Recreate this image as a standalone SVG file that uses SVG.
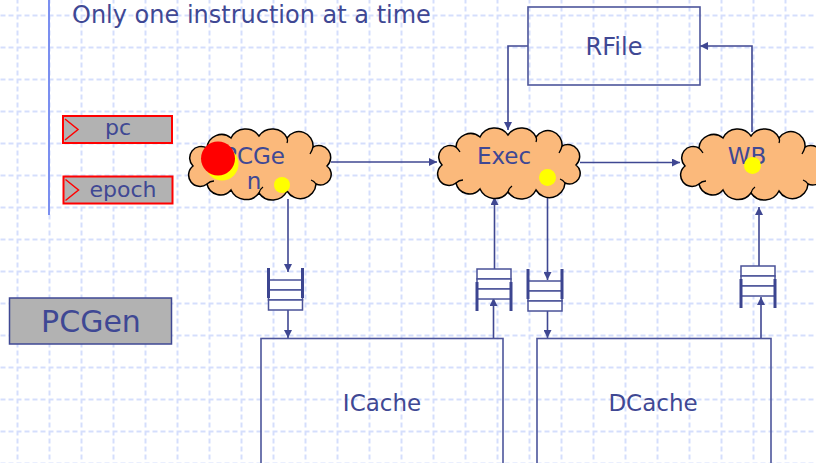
<svg xmlns="http://www.w3.org/2000/svg" width="816" height="463" viewBox="0 0 816 463">
  <style>
    .lbl { font-family: "DejaVu Sans", Verdana, sans-serif; fill: #3f4894; }
    .wire { fill: none; stroke: #3f4792; stroke-width: 1.6; }
    .box { fill: none; stroke: #4d559b; stroke-width: 1.6; }
    .reg { fill: #b2b2b2; stroke: #ff0000; stroke-width: 2; }
    .chev { fill: none; stroke: #ff0000; stroke-width: 1.5; }
    .cloud { fill: #fbb97b; stroke: #000; stroke-width: 1.5; }
    .cloudin { fill: none; stroke: #000; stroke-width: 1.3; }
    .cell { fill: #fff; stroke: #4a5298; stroke-width: 1.5; }
    .bar { stroke: #3c4590; stroke-width: 3; }
  </style>
  <defs>
    <pattern id="grid" patternUnits="userSpaceOnUse" x="16.5" y="14.5" width="32" height="32">
      <path d="M0,1 H32 M1,0 V32" stroke="#d5defc" stroke-width="2" stroke-dasharray="5 3" fill="none"/>
    </pattern>
    <marker id="ah" viewBox="0 0 10 10" refX="10" refY="5" markerWidth="8" markerHeight="8" markerUnits="userSpaceOnUse" orient="auto">
      <path d="M0,0 L10,5 L0,10 z" fill="#3f4792"/>
    </marker>
    <!-- cloud outline, about 140 x 72 -->
    <g id="cloudShape">
      <path class="cloud" d="M4,38 A11.5,11.5 0 0 1 18,20 A14.6,14.6 0 0 1 42,10 A16.3,16.3 0 0 1 70,8 A16.3,16.3 0 0 1 98,10 A14.2,14.2 0 0 1 124,19 A11.9,11.9 0 0 1 138,38 A10.6,10.6 0 0 1 127,56 A15.6,15.6 0 0 1 98,63 A16.3,16.3 0 0 1 70,65 A16.4,16.4 0 0 1 42,62 A13.8,13.8 0 0 1 18,56 A10,10 0 0 1 4,38 Z"/>
      <path class="cloudin" d="M18,56 q3,-3 7,-3 M124,19 q-1,4 -3,7 M127,56 q-2,-3 -5,-4 M70,65 q1,-4 4,-6 M18,20 q2,2 4,5 M98,10 q1,2 0,5"/>
    </g>
    <!-- FIFO with guard bars at the top -->
    <g id="fifoTop">
      <rect class="cell" x="0" y="12" width="34" height="10"/>
      <rect class="cell" x="0" y="22" width="34" height="10"/>
      <rect class="cell" x="0" y="32" width="34" height="10"/>
      <line class="bar" x1="0" y1="0" x2="0" y2="30"/>
      <line class="bar" x1="34" y1="0" x2="34" y2="30"/>
    </g>
    <!-- FIFO with guard bars at the bottom -->
    <g id="fifoBottom">
      <rect class="cell" x="0" y="0" width="34" height="10"/>
      <rect class="cell" x="0" y="10" width="34" height="10"/>
      <rect class="cell" x="0" y="20" width="34" height="10"/>
      <line class="bar" x1="0" y1="13" x2="0" y2="42"/>
      <line class="bar" x1="34" y1="13" x2="34" y2="42"/>
    </g>
  </defs>

  <!-- background grid -->
  <rect x="0" y="0" width="816" height="463" fill="#fff"/>
  <rect x="0" y="0" width="816" height="463" fill="url(#grid)"/>
  <line x1="49" y1="0" x2="49" y2="215" stroke="#7b8ff0" stroke-width="2"/>

  <text class="lbl" x="72" y="23" font-size="24">Only one instruction at a time</text>

  <!-- state registers -->
  <g id="reg-pc">
    <rect class="reg" x="63" y="116" width="109" height="27"/>
    <polyline class="chev" points="65,119 78,129.5 65,140"/>
    <text class="lbl" x="118" y="135" font-size="22" text-anchor="middle">pc</text>
  </g>
  <g id="reg-epoch">
    <rect class="reg" x="63.5" y="176.5" width="109" height="27"/>
    <polyline class="chev" points="65.5,179.5 78.5,190 65.5,200.5"/>
    <text class="lbl" x="123" y="197" font-size="22" text-anchor="middle">epoch</text>
  </g>
  <g id="title-pcgen">
    <rect x="9.5" y="298" width="162" height="46" fill="#b2b2b2" stroke="#3f4894" stroke-width="1.5"/>
    <text class="lbl" x="91" y="332" font-size="30" text-anchor="middle">PCGen</text>
  </g>

  <!-- connectors -->
  <g id="connectors">
    <path class="wire" d="M331,162 H437" marker-end="url(#ah)"/>
    <path class="wire" d="M580,162.5 H680" marker-end="url(#ah)"/>
    <path class="wire" d="M528,46 H508 V130" marker-end="url(#ah)"/>
    <path class="wire" d="M752,132 V46 H700" marker-end="url(#ah)"/>
    <path class="wire" d="M288,199 V272" marker-end="url(#ah)"/>
    <path class="wire" d="M288,310 V338" marker-end="url(#ah)"/>
    <path class="wire" d="M493.5,338 V298" marker-end="url(#ah)"/>
    <path class="wire" d="M494.5,269 V197" marker-end="url(#ah)"/>
    <path class="wire" d="M547.5,193 V280" marker-end="url(#ah)"/>
    <path class="wire" d="M547.5,311 V338" marker-end="url(#ah)"/>
    <path class="wire" d="M761,338 V297" marker-end="url(#ah)"/>
    <path class="wire" d="M759,266 V207" marker-end="url(#ah)"/>
  </g>

  <!-- register file -->
  <g id="rfile">
    <rect class="box" x="528" y="7" width="172" height="78"/>
    <text class="lbl" x="614" y="55" font-size="24" text-anchor="middle">RFile</text>
  </g>

  <!-- pipeline stages -->
  <g id="pcgen">
    <use href="#cloudShape" transform="translate(189,128)"/>
    <text class="lbl" x="254" y="164" font-size="23" text-anchor="middle">PCGe</text>
    <text class="lbl" x="254" y="189" font-size="23" text-anchor="middle">n</text>
    <circle cx="222" cy="164" r="16.5" fill="#ffff00"/>
    <circle cx="218" cy="158.5" r="17" fill="#ff0000"/>
    <circle cx="282" cy="185" r="8" fill="#ffff00"/>
  </g>
  <g id="exec">
    <use href="#cloudShape" transform="translate(438,127)"/>
    <text class="lbl" x="504" y="164" font-size="23" text-anchor="middle">Exec</text>
    <circle cx="547.5" cy="177.5" r="8.5" fill="#ffff00"/>
  </g>
  <g id="wb">
    <use href="#cloudShape" transform="translate(681,128)"/>
    <text class="lbl" x="747" y="164" font-size="23" text-anchor="middle">WB</text>
    <circle cx="752.5" cy="165.5" r="8.5" fill="#ffff00"/>
  </g>

  <!-- FIFOs -->
  <g id="fifo-f2d"><use href="#fifoTop" transform="translate(268.5,268)"/></g>
  <g id="fifo-i2e"><use href="#fifoBottom" transform="translate(477,269)"/></g>
  <g id="fifo-e2d"><use href="#fifoTop" transform="translate(528,269)"/></g>
  <g id="fifo-d2w"><use href="#fifoBottom" transform="translate(741,266)"/></g>

  <!-- memories -->
  <g id="icache">
    <rect class="box" x="261" y="338.5" width="242" height="140"/>
    <text class="lbl" x="382" y="411" font-size="23" text-anchor="middle">ICache</text>
  </g>
  <g id="dcache">
    <rect class="box" x="537" y="338.5" width="234" height="140"/>
    <text class="lbl" x="653" y="411" font-size="23" text-anchor="middle">DCache</text>
  </g>
</svg>
